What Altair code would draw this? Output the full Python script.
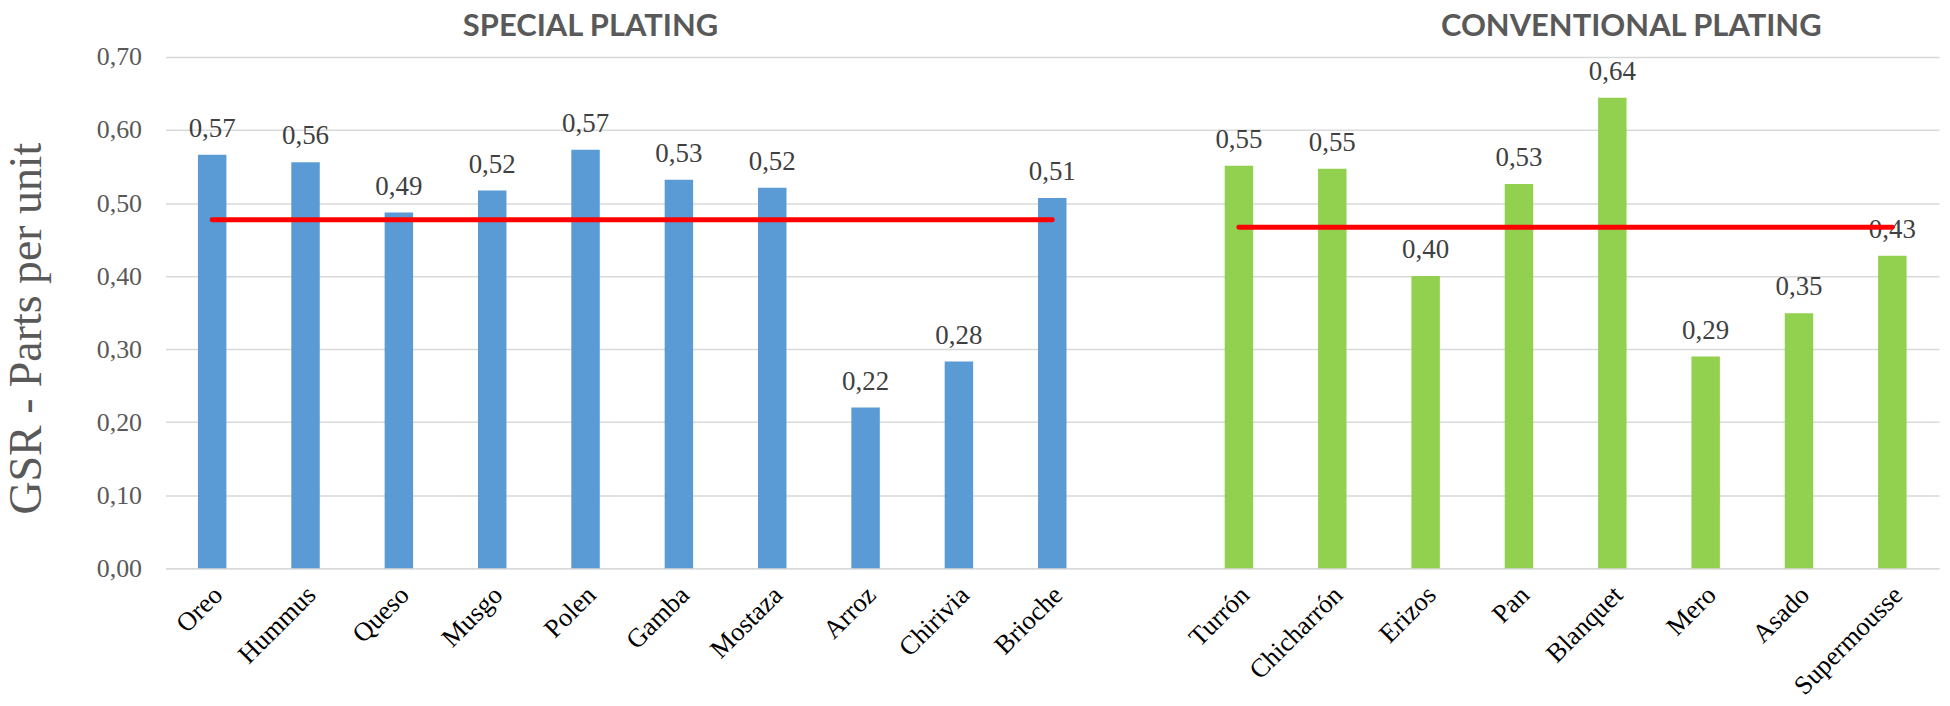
import altair as alt
import pandas as pd

# ---- data ----
special_names = ["Oreo", "Hummus", "Queso", "Musgo", "Polen", "Gamba", "Mostaza",
                 "Arroz", "Chirivia", "Brioche"]
special_values = [0.566, 0.556, 0.487, 0.517, 0.573, 0.532, 0.521, 0.220, 0.283, 0.507]

conv_names = ["Turrón", "Chicharrón", "Erizos", "Pan", "Blanquet", "Mero", "Asado",
              "Supermousse"]
conv_values = [0.551, 0.547, 0.400, 0.526, 0.644, 0.290, 0.349, 0.428]

group_labels = ["SPECIAL PLATING", "CONVENTIONAL PLATING"]
mean_values = [0.477, 0.467]
y_ticks = [0.0, 0.1, 0.2, 0.3, 0.4, 0.5, 0.6, 0.7]

GAP = " "
order = special_names + [GAP] + conv_names

bars_df = pd.DataFrame({
    "name": special_names + conv_names,
    "value": special_values + conv_values,
    "group": [group_labels[0]] * len(special_names) + [group_labels[1]] * len(conv_names),
})
means_df = pd.DataFrame({
    "start": [special_names[0], conv_names[0]],
    "end": [special_names[-1], conv_names[-1]],
    "mean": mean_values,
})

SERIF = "Liberation Serif"

x_scale = alt.Scale(domain=order, paddingInner=0.695, paddingOuter=0.3475)

x_enc = alt.X(
    "name:N", scale=x_scale, sort=order,
    axis=alt.Axis(
        title=None, labelAngle=315, labelAlign="right", labelBaseline="top",
        labelFont=SERIF, labelFontSize=26.5, labelColor="#000000", labelPadding=13,
        labelOffset=-3,
        ticks=False, domainColor="#d9d9d9", domainWidth=1.5, labelOverlap=False,
        labelLimit=400,
    ),
)
y_enc = alt.Y(
    "value:Q", scale=alt.Scale(domain=[0, 0.7], nice=False, zero=True),
    axis=alt.Axis(
        values=y_ticks, labelExpr="replace(format(datum.value, '.2f'), '.', ',')",
        labelFont=SERIF, labelFontSize=26, labelColor="#595959", labelPadding=24,
        ticks=False, domain=False, grid=True, gridColor="#d9d9d9", gridWidth=1.5,
        title="GSR - Parts per unit", titleFont=SERIF, titleFontSize=46,
        titleFontWeight="normal", titleColor="#595959",
        titleX=-125, titleY=272, titleBaseline="alphabetic", titleAlign="center",
    ),
)

base = alt.Chart(bars_df)

bars = base.mark_bar().encode(
    x=x_enc,
    y=y_enc,
    color=alt.Color("group:N",
                    scale=alt.Scale(domain=group_labels, range=["#5b9bd5", "#92d050"]),
                    legend=None),
)

labels = base.mark_text(
    font=SERIF, fontSize=27, color="#404040", baseline="alphabetic", dy=-18
).transform_calculate(
    label="replace(format(datum.value, '.2f'), '.', ',')"
).encode(
    x=alt.X("name:N", scale=x_scale, sort=order),
    y=alt.Y("value:Q"),
    text="label:N",
)

rules = alt.Chart(means_df).mark_rule(
    color="#ff0000", strokeWidth=5, strokeCap="round"
).encode(
    x=alt.X("start:N", scale=x_scale, sort=order),
    x2="end:N",
    y=alt.Y("mean:Q"),
)

title_left = alt.Chart(pd.DataFrame({"anchor": [special_names[4]], "t": [group_labels[0]]})).mark_text(
    font="Lato", fontWeight="bold", fontSize=31, color="#595959", baseline="alphabetic", dx=5
).encode(
    x=alt.X("anchor:N", scale=x_scale, sort=order),
    y=alt.value(-21),
    text="t:N",
)
title_right = alt.Chart(pd.DataFrame({"anchor": [conv_names[4]], "t": [group_labels[1]]})).mark_text(
    font="Lato", fontWeight="bold", fontSize=31, color="#595959", baseline="alphabetic", dx=19
).encode(
    x=alt.X("anchor:N", scale=x_scale, sort=order),
    y=alt.value(-21),
    text="t:N",
)

chart = alt.layer(bars, labels, rules, title_left, title_right).properties(
    width=1779, height=513,
    autosize=alt.AutoSizeParams(type="none"),
    padding={"left": 158, "top": 48, "right": 3, "bottom": 131},
    background="white",
).configure_view(stroke=None)

chart.save("out.html", embed_options={"renderer": "svg", "actions": False})
